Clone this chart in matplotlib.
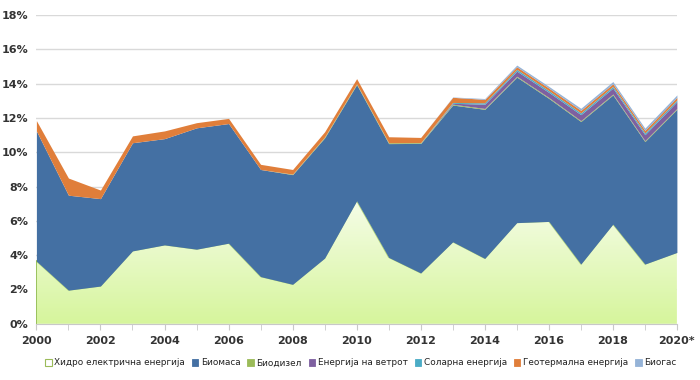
import numpy as np
import matplotlib
matplotlib.use("Agg")
from matplotlib import pyplot as plt
from matplotlib.patches import Patch
from matplotlib.ticker import FuncFormatter

years = np.arange(2000, 2021)
year_labels = [str(y) if y < 2020 else "2020*" for y in years[::2]]

hydro = [3.65, 1.96, 2.2, 4.25, 4.6, 4.35, 4.7, 2.75, 2.3, 3.83, 7.17,
         3.87, 2.96, 4.78, 3.81, 5.9, 5.97, 3.48, 5.81, 3.48, 4.16]
biomass = [7.6, 5.54, 5.1, 6.31, 6.2, 7.08, 6.98, 6.25, 6.4, 7.02, 6.78,
           6.64, 7.56, 7.98, 8.7, 8.49, 7.18, 8.32, 7.54, 7.15, 8.35]
biodiesel = [0, 0, 0, 0, 0, 0, 0, 0, 0.03, 0.05, 0.05,
             0.05, 0.04, 0.05, 0.05, 0.05, 0.05, 0.05, 0.05, 0.05, 0.05]
wind = [0, 0, 0, 0, 0, 0, 0, 0, 0, 0, 0,
        0, 0, 0.05, 0.25, 0.3, 0.3, 0.35, 0.35, 0.35, 0.4]
solar = [0, 0, 0, 0, 0, 0, 0, 0, 0, 0, 0,
         0, 0.01, 0.05, 0.08, 0.1, 0.1, 0.1, 0.1, 0.1, 0.1]
geothermal = [0.6, 1.0, 0.5, 0.4, 0.45, 0.3, 0.3, 0.3, 0.27, 0.3, 0.3,
              0.35, 0.3, 0.3, 0.2, 0.15, 0.15, 0.15, 0.15, 0.15, 0.15]
biogas = [0, 0, 0, 0, 0, 0, 0, 0, 0, 0, 0,
          0, 0, 0.02, 0.05, 0.1, 0.1, 0.12, 0.13, 0.13, 0.14]

names = ["Хидро електрична енергија", "Биомаса", "Биодизел", "Енергија на ветрот",
         "Соларна енергија", "Геотермална енергија", "Биогас"]
colors = ["#e2f7bf", "#4470a3", "#9bbb59", "#7e60a0", "#4bacc6", "#e07e3a", "#95b3d7"]

series = [hydro, biomass, biodiesel, wind, solar, geothermal, biogas]

fig = plt.figure(figsize=(7, 3.8), dpi=100)
ax = fig.add_axes([0.052, 0.148, 0.915, 0.812])

base = np.zeros(len(years))
for i, (vals, col) in enumerate(zip(series, colors)):
    top = base + np.array(vals)
    if i == 0:
        poly = ax.fill_between(years, base, top, color="none", lw=0)
        # light green vertical gradient for hydro, clipped to the area
        grad = np.linspace(0, 1, 256).reshape(-1, 1)
        cmap = matplotlib.colors.LinearSegmentedColormap.from_list(
            "g", ["#d6f59c", "#f6fde9"])
        im = ax.imshow(grad, cmap=cmap, aspect="auto", origin="lower",
                       extent=[2000, 2020, 0, 7.3], zorder=1)
        im.set_clip_path(poly.get_paths()[0], transform=ax.transData)
        ax.plot(years, top, color="#b5d77a", lw=0.8, zorder=2)
        ax.plot([2000, 2000], [0, top[0]], color="#8cb84a", lw=1.2, zorder=2)
    else:
        ax.fill_between(years, base, top, color=col, lw=0, zorder=2)
    base = top

ax.set_xlim(2000, 2020)
ax.set_ylim(0, 18)
ax.set_yticks(np.arange(0, 19, 2))
ax.yaxis.set_major_formatter(FuncFormatter(lambda v, p: "%d%%" % v))
ax.set_xticks(years, minor=True)
ax.set_xticks(years[::2])
ax.set_xticklabels(year_labels)
ax.grid(axis="y", color="#d9d9d9", lw=1)
ax.set_axisbelow(True)
for s in ["top", "right", "left"]:
    ax.spines[s].set_visible(False)
ax.spines["bottom"].set_color("#c8c8c8")
ax.tick_params(axis="y", length=0, labelsize=8, pad=6)
ax.tick_params(axis="x", which="both", length=4, color="#c8c8c8", labelsize=8, pad=5)
for lab in ax.get_xticklabels() + ax.get_yticklabels():
    lab.set_fontweight("bold")
    lab.set_color("#333333")

handles = [Patch(facecolor=c, edgecolor=c, lw=0.6) for c in colors]
handles[0] = Patch(facecolor="white", edgecolor="#9bbb59", lw=0.8)
leg = fig.legend(handles, names, loc="center", bbox_to_anchor=(0.515, 0.045), ncol=7,
                 frameon=False, fontsize=6.4, handlelength=0.75, handleheight=0.75,
                 handletextpad=0.25, columnspacing=0.8)
for t in leg.get_texts():
    t.set_color("#222222")

fig.savefig("out.png", dpi=100)
